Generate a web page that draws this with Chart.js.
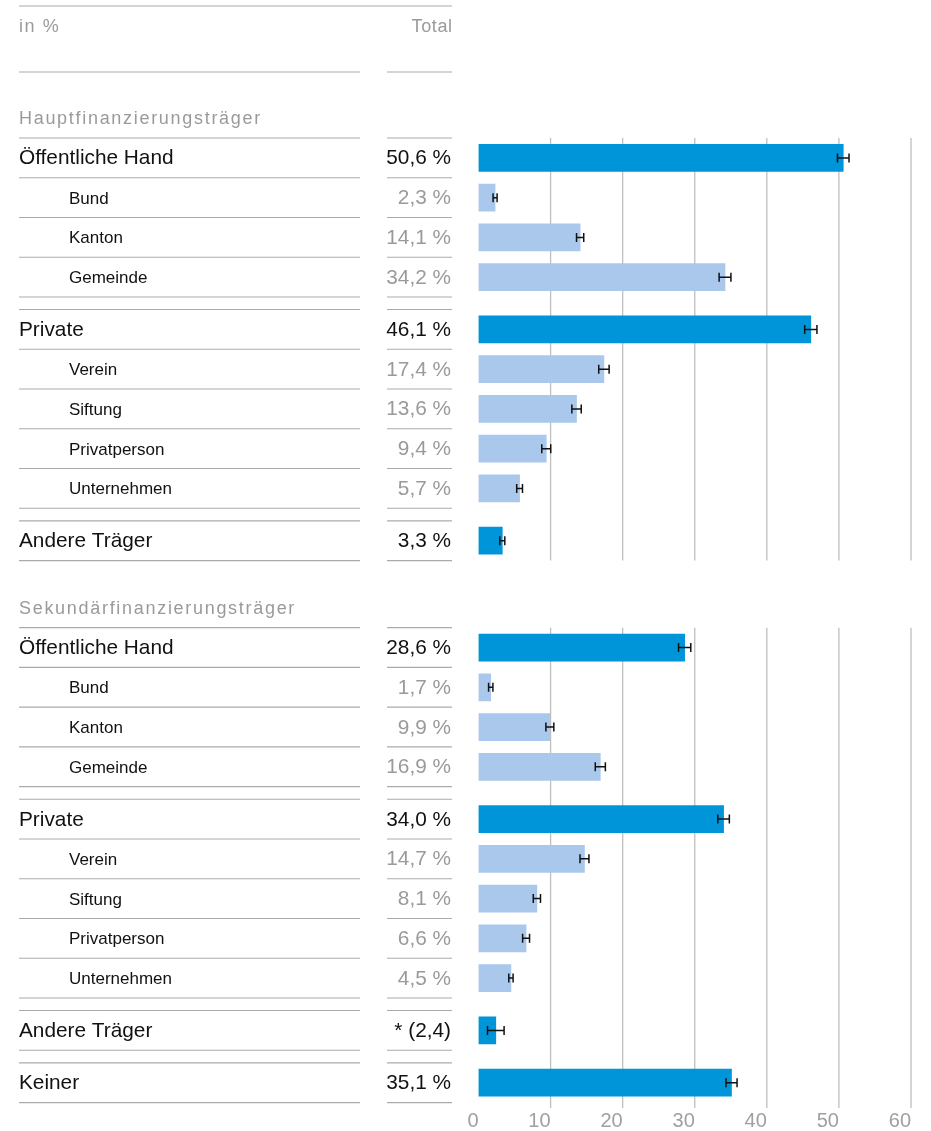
<!DOCTYPE html>
<html lang="de">
<head>
  <meta charset="UTF-8" />
  <title>Finanzierungsträger</title>
  <script src="https://cdn.jsdelivr.net/npm/chart.js"></script>
  <style>
    body {
      margin: 0;
      padding: 0;
      background: #fff;
    }
    #wrap {
      width: 931px;
      height: 1131px;
    }
  </style>
</head>
<body>
  <div id="wrap"><canvas id="chart" width="931" height="1131"></canvas></div>

  <script>
    const sections = ['Hauptfinanzierungsträger', 'Sekundärfinanzierungsträger'];

    const rowLabels = [
      'Öffentliche Hand', 'Bund', 'Kanton', 'Gemeinde',
      'Private', 'Verein', 'Siftung', 'Privatperson', 'Unternehmen',
      'Andere Träger',
      'Öffentliche Hand', 'Bund', 'Kanton', 'Gemeinde',
      'Private', 'Verein', 'Siftung', 'Privatperson', 'Unternehmen',
      'Andere Träger', 'Keiner'
    ];
    // 0 = Hauptkategorie, 1 = Unterkategorie
    const rowLevels = [0, 1, 1, 1, 0, 1, 1, 1, 1, 0, 0, 1, 1, 1, 0, 1, 1, 1, 1, 0, 0];
    const rowSection = [0, 0, 0, 0, 0, 0, 0, 0, 0, 0, 1, 1, 1, 1, 1, 1, 1, 1, 1, 1, 1];

    const values = [50.6, 2.3, 14.1, 34.2, 46.1, 17.4, 13.6, 9.4, 5.7, 3.3,
                    28.6, 1.7, 9.9, 16.9, 34.0, 14.7, 8.1, 6.6, 4.5, 2.4, 35.1];
    const errors = [0.8, 0.28, 0.5, 0.82, 0.85, 0.72, 0.65, 0.62, 0.4, 0.35,
                    0.85, 0.3, 0.55, 0.7, 0.8, 0.62, 0.5, 0.48, 0.3, 1.15, 0.77];
    const totals = ['50,6 %', '2,3 %', '14,1 %', '34,2 %', '46,1 %', '17,4 %', '13,6 %', '9,4 %', '5,7 %', '3,3 %',
                    '28,6 %', '1,7 %', '9,9 %', '16,9 %', '34,0 %', '14,7 %', '8,1 %', '6,6 %', '4,5 %', '* (2,4)', '35,1 %'];

    const xTicks = [0, 10, 20, 30, 40, 50, 60];

    // layout of the rows (in row units)
    const ROW = 1, GAP = 0.315, SECTION_GAP = 1.69;
    const PX_PER_ROW = 39.75, TOP_PX = 138, AXIS_H = 25, AREA_H = 1131 - AXIS_H;
    const rowTop = [];
    let pos = 0;
    rowLabels.forEach((_, i) => {
      if (i > 0) {
        if (rowSection[i] !== rowSection[i - 1]) pos += SECTION_GAP;
        else if (rowLevels[i] === 0) pos += GAP;
      }
      rowTop.push(pos);
      pos += ROW;
    });
    const rowCenter = rowTop.map(t => t + ROW / 2);
    const yMin = -TOP_PX / PX_PER_ROW;
    const yMax = yMin + AREA_H / PX_PER_ROW;

    const FONT = "'Liberation Sans', Arial, sans-serif";
    const DARK = '#0095d9';
    const LIGHT = '#aac8eb';
    const GREY_TXT = '#9a9a9a';
    const RULE = '#ababab';

    const LEFT_X = 19, LEFT_END = 360, TOT_X = 387, TOT_END = 452;

    function hline(ctx, y, x0, x1) {
      ctx.beginPath();
      ctx.moveTo(x0, y);
      ctx.lineTo(x1, y);
      ctx.stroke();
    }

    const gridPlugin = {
      id: 'blockGrid',
      beforeDatasetsDraw(chart) {
        const ctx = chart.ctx, x = chart.scales.x, y = chart.scales.y;
        const blocks = sections.map((_, s) => {
          const idx = rowSection.map((v, i) => v === s ? i : -1).filter(i => i >= 0);
          const top = y.getPixelForValue(rowTop[idx[0]]);
          const last = idx[idx.length - 1];
          const bottom = s === sections.length - 1 ? chart.chartArea.bottom + 2 : y.getPixelForValue(rowTop[last] + ROW);
          return [top, bottom];
        });
        ctx.save();
        ctx.strokeStyle = '#bfbfbf';
        ctx.lineWidth = 1.3;
        xTicks.slice(1).forEach(v => {
          const px = x.getPixelForValue(v);
          blocks.forEach(([t, b]) => {
            ctx.beginPath();
            ctx.moveTo(px, t);
            ctx.lineTo(px, b);
            ctx.stroke();
          });
        });
        ctx.restore();
      }
    };

    const errorPlugin = {
      id: 'errorBars',
      afterDatasetsDraw(chart) {
        const ctx = chart.ctx, x = chart.scales.x;
        const meta = chart.getDatasetMeta(0);
        ctx.save();
        ctx.strokeStyle = '#111';
        ctx.lineWidth = 1.5;
        meta.data.forEach((bar, i) => {
          const x0 = x.getPixelForValue(values[i] - errors[i]);
          const x1 = x.getPixelForValue(values[i] + errors[i]);
          const cy = bar.y;
          ctx.beginPath();
          ctx.moveTo(x0, cy); ctx.lineTo(x1, cy);
          ctx.moveTo(x0, cy - 4.5); ctx.lineTo(x0, cy + 4.5);
          ctx.moveTo(x1, cy - 4.5); ctx.lineTo(x1, cy + 4.5);
          ctx.stroke();
        });
        ctx.restore();
      }
    };

    const tablePlugin = {
      id: 'table',
      afterDraw(chart) {
        const ctx = chart.ctx, y = chart.scales.y;
        ctx.save();
        ctx.strokeStyle = RULE;
        ctx.lineWidth = 1.2;

        // header
        hline(ctx, 6, LEFT_X, TOT_END);
        hline(ctx, 72, LEFT_X, LEFT_END);
        hline(ctx, 72, TOT_X, TOT_END);
        ctx.fillStyle = GREY_TXT;
        ctx.font = '18px ' + FONT;
        ctx.textAlign = 'left';
        ctx.letterSpacing = '1.6px';
        ctx.fillText('in %', LEFT_X, 32);
        ctx.textAlign = 'right';
        ctx.letterSpacing = '0.6px';
        ctx.fillText('Total', TOT_END + 0.6, 32);

        // section titles
        ctx.letterSpacing = '1.7px';
        ctx.textAlign = 'left';
        sections.forEach((name, s) => {
          const first = rowSection.indexOf(s);
          const top = y.getPixelForValue(rowTop[first]);
          ctx.fillText(name, LEFT_X, top - 14);
        });
        ctx.letterSpacing = '0px';

        // rows
        rowLabels.forEach((label, i) => {
          const top = y.getPixelForValue(rowTop[i]);
          const bottom = y.getPixelForValue(rowTop[i] + ROW);
          const cy = y.getPixelForValue(rowCenter[i]);
          if (rowLevels[i] === 0) {
            hline(ctx, top, LEFT_X, LEFT_END);
            hline(ctx, top, TOT_X, TOT_END);
          }
          hline(ctx, bottom, LEFT_X, LEFT_END);
          hline(ctx, bottom, TOT_X, TOT_END);

          ctx.textAlign = 'left';
          ctx.fillStyle = '#111';
          if (rowLevels[i] === 0) {
            ctx.font = '20.8px ' + FONT;
            ctx.fillText(label, LEFT_X, cy + 6.5);
          } else {
            ctx.font = '17px ' + FONT;
            ctx.fillText(label, 69, cy + 6);
          }
          ctx.textAlign = 'right';
          ctx.font = '20.8px ' + FONT;
          ctx.fillStyle = rowLevels[i] === 0 ? '#111' : GREY_TXT;
          ctx.fillText(totals[i], 451, cy + 6.5);
        });
        ctx.restore();
      }
    };

    new Chart(document.getElementById('chart'), {
      type: 'bar',
      data: {
        datasets: [{
          data: values.map((v, i) => ({ x: v, y: rowCenter[i] })),
          backgroundColor: rowLevels.map(l => l === 0 ? DARK : LIGHT),
          borderWidth: 0,
          barThickness: 27
        }]
      },
      options: {
        indexAxis: 'y',
        responsive: false,
        animation: false,
        layout: {
          padding: { left: 478.5, right: 20, top: 0, bottom: 0 }
        },
        plugins: {
          legend: { display: false },
          tooltip: { enabled: false }
        },
        scales: {
          x: {
            type: 'linear',
            position: 'bottom',
            min: 0,
            max: 60,
            afterBuildTicks: axis => { axis.ticks = xTicks.map(v => ({ value: v })); },
            afterFit: axis => { axis.height = AXIS_H; },
            grid: { display: false, drawTicks: false },
            border: { display: false },
            ticks: {
              align: 'end',
              padding: 5,
              color: '#a0a0a0',
              font: { family: FONT, size: 20, lineHeight: 1 }
            }
          },
          y: {
            type: 'linear',
            display: false,
            reverse: true,
            offset: false,
            grid: { offset: false },
            min: yMin,
            max: yMax,
            bounds: 'data'
          }
        }
      },
      plugins: [gridPlugin, errorPlugin, tablePlugin]
    });
  </script>
</body>
</html>
